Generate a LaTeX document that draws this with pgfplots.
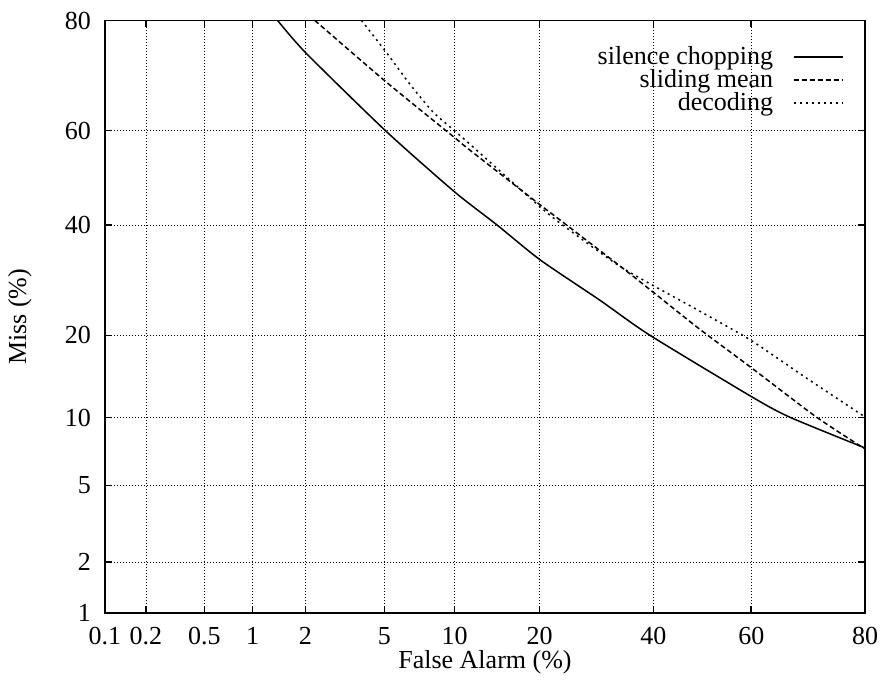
\documentclass[border=0pt]{standalone}
\usepackage{fontspec}
\setmainfont{Liberation Serif}
\usepackage{pgfplots}
\pgfplotsset{compat=1.18}
% coordinates are normal deviates (probit) of the percentages
\begin{document}
\begin{tikzpicture}[font=\fontsize{13}{15}\selectfont]
\useasboundingbox (-52.5pt,-33pt) rectangle (388pt,306.5pt);
\begin{axis}[
  at={(0,0)}, anchor=south west,
  scale only axis, width=380pt, height=296.25pt,
  xmin=-3.0902, xmax=0.8416, ymin=-2.3263, ymax=0.8416,
  xtick={-3.0902,-2.8782,-2.5758,-2.3263,-2.0537,-1.6449,-1.2816,-0.8416,-0.2533,0.2533,0.8416},
  xticklabels={0.1,0.2,0.5,1,2,5,10,20,40,60,80},
  ytick={-2.3263,-2.0537,-1.6449,-1.2816,-0.8416,-0.2533,0.2533,0.8416},
  yticklabels={1,2,5,10,20,40,60,80},
  xticklabel style={yshift=-3.5pt},
  yticklabel style={xshift=-3.5pt},
  grid=major,
  major grid style={black, dash pattern=on 0.5pt off 1pt, line width=0.4pt},
  tick align=inside, major tick length=3.5pt,
  tick style={black, line width=0.8pt},
  axis line style={line width=0.9pt},
  xlabel={False Alarm (\%)}, ylabel={Miss (\%)},
  xlabel style={at={(axis description cs:0.5,-0.0827)}, anchor=center},
  ylabel style={at={(axis description cs:-0.112,0.5)}, anchor=center},
  legend plot pos=right, legend cell align=right,
  legend style={draw=none, fill=none, at={(axis description cs:0.9803,0.9704)}, anchor=north east, row sep=-3pt},
  legend image code/.code={\path (0pt,0pt); \draw[#1] (8pt,0pt) -- (32.5pt,0pt);},
]
\addplot[black, line width=0.75pt, smooth, tension=0.4] table {
-2.1977 0.8421
-2.0514 0.6684
-1.6380 0.2512
-1.2814 -0.0750
-1.0644 -0.2498
-0.8385 -0.4386
-0.5321 -0.6525
-0.2737 -0.8397
0.2483 -1.1659
0.4499 -1.2782
0.8416 -1.4439
};
\addlegendentry{silence chopping}
\addplot[black, line width=0.75pt, dash pattern=on 2.5pt off 1.5pt, smooth, tension=0.4] table {
-2.0049 0.8421
-1.6380 0.5149
-1.2799 0.2138
-1.2039 0.1496
-0.8385 -0.1445
-0.7233 -0.2354
-0.4132 -0.4814
-0.2494 -0.6151
-0.0153 -0.8076
0.2483 -1.0108
0.5894 -1.2782
0.8416 -1.4493
};
\addlegendentry{sliding mean}
\addplot[black, line width=0.75pt, dash pattern=on 1pt off 2pt, smooth, tension=0.4] table {
-1.7636 0.8421
-1.6380 0.6753
-1.5140 0.5026
-1.3951 0.3544
-1.2814 0.2512
-1.2039 0.1817
-0.8385 -0.1552
-0.7233 -0.2514
-0.4132 -0.4814
-0.0153 -0.7113
0.2483 -0.8664
0.5377 -1.0696
0.8416 -1.2782
};
\addlegendentry{decoding}
\end{axis}
\end{tikzpicture}
\end{document}
